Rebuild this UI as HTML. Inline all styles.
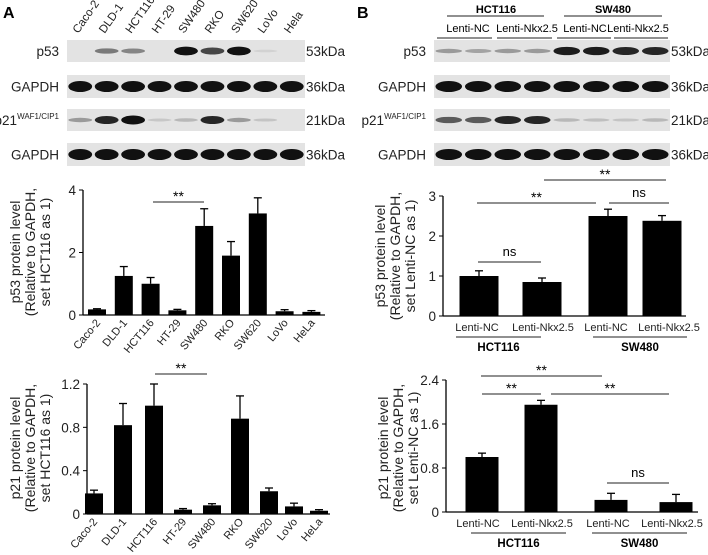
<!DOCTYPE html>
<html><head><meta charset="utf-8">
<style>
html,body{margin:0;padding:0;background:#fff;}
svg{display:block;font-family:"Liberation Sans",Arial,sans-serif;}
.blab{font-family:"Liberation Sans",sans-serif;font-size:13.5px;fill:#222;}
.tick{font-size:13.5px;fill:#222;}
.xl{font-size:11px;fill:#222;}
.yt{font-size:14px;fill:#222;}
</style></head>
<body>
<svg id="fig" width="708" height="555" viewBox="0 0 708 555">
<text x="3" y="18" font-size="16" font-weight="bold">A</text>
<text x="357" y="18" font-size="16" font-weight="bold">B</text>
<g id="blotA"></g>
<g id="blotB"></g>
<g id="c1"></g>
<g id="c2"></g>
<g id="c3"></g>
<g id="c4"></g>
</svg>
<script>
// ---- data ----
const cellLines = ["Caco-2","DLD-1","HCT116","HT-29","SW480","RKO","SW620","LoVo","HeLa"];
const blotLanesA = ["Caco-2","DLD-1","HCT116","HT-29","SW480","RKO","SW620","LoVo","Hela"];
const p53A = [0.18,1.25,1.0,0.15,2.85,1.9,3.25,0.12,0.1];
const p53AErr = [0.02,0.3,0.2,0.03,0.55,0.45,0.5,0.05,0.04];
const p53ATicks = [0,2,4];
const p21A = [0.19,0.82,1.0,0.04,0.08,0.88,0.21,0.07,0.03];
const p21AErr = [0.03,0.2,0.2,0.01,0.015,0.21,0.03,0.03,0.01];
const p21ATicks = [0,0.4,0.8,1.2];
const groupsB = ["Lenti-NC","Lenti-Nkx2.5","Lenti-NC","Lenti-Nkx2.5"];
const p53B = [1.0,0.85,2.5,2.38];
const p53BErr = [0.13,0.1,0.17,0.13];
const p53BTicks = [0,1,2,3];
const p21B = [1.0,1.95,0.22,0.18];
const p21BErr = [0.07,0.08,0.12,0.14];
const p21BTicks = [0,0.8,1.6,2.4];
const bandP53A = [0,0.45,0.4,0,0.95,0.7,0.95,0.03,0];
const bandP21A = [0.3,0.85,1,0.08,0.15,0.85,0.3,0.1,0];
const bandP53B = [0.3,0.25,0.3,0.3,0.9,0.9,0.85,0.85];
const bandP21B = [0.6,0.6,0.85,0.85,0.15,0.12,0.1,0.15];

const NS="http://www.w3.org/2000/svg";
function el(tag,attrs,parent,txt){const e=document.createElementNS(NS,tag);for(const k in attrs)e.setAttribute(k,attrs[k]);if(txt!==undefined)e.textContent=txt;parent.appendChild(e);return e;}

// ---- blots ----
function blot(g,x0,x1,lanes,rows,kdaX){
  const n=lanes; const w=(x1-x0)/n;
  rows.forEach(r=>{
    const s=el('rect',{x:x0,y:r.y,width:x1-x0,height:r.h,fill:'#e3e3e3'},g);
    
    
    for(let i=0;i<n;i++){
      const v=r.vals?r.vals[i]:1;
      if(v<=0.01)continue;
      const b=el('ellipse',{cx:x0+w*(i+0.5),cy:r.y+r.h/2,rx:w*0.45,ry:r.full?5.5:1.2+3.3*v,fill:'#111','fill-opacity':Math.min(1,0.05+v)},g);
      
      
    }
    const t=el('text',{x:kdaX,y:r.y+r.h/2+5,class:'blab'},g,r.kda);
    
    
    const l=el('text',{x:x0-8,y:r.y+r.h/2+5,class:'blab','text-anchor':'end'},g,r.label);
    
    
    if(r.sup){el('tspan',{'font-size':'8',dy:'-6'},l,r.sup);}
  });
}
const gA=document.getElementById('blotA');
blot(gA,67,305,9,[
 {name:'p53',y:40,h:22,vals:bandP53A,kda:'53kDa',label:'p53'},
 {name:'gapdh',y:75,h:23,full:true,kda:'36kDa',label:'GAPDH'},
 {name:'p21',y:109,h:22,vals:bandP21A,kda:'21kDa',label:'p21',sup:'WAF1/CIP1'},
 {name:'gapdh2',y:143,h:23,full:true,kda:'36kDa',label:'GAPDH'}],306);
blotLanesA.forEach((n,i)=>{const x=67+(238/9)*(i+0.5)-2;const t=el('text',{x:x,y:34,'font-size':'11.5',fill:'#222',transform:`rotate(-55 ${x} 34)`},gA,n);
 });
const gB=document.getElementById('blotB');
blot(gB,434,670,8,[
 {name:'p53-b',y:40,h:22,vals:bandP53B,kda:'53kDa',label:'p53'},
 {name:'gapdh-b',y:75,h:23,full:true,kda:'36kDa',label:'GAPDH'},
 {name:'p21-b',y:109,h:22,vals:bandP21B,kda:'21kDa',label:'p21',sup:'WAF1/CIP1'},
 {name:'gapdh2-b',y:143,h:23,full:true,kda:'36kDa',label:'GAPDH'}],671);
[['HCT116',496,447,544],['SW480',613,564,662]].forEach(a=>{
 const t=el('text',{x:a[1],y:13,'font-size':'11','font-weight':'bold','text-anchor':'middle'},gB,a[0]);
 
 el('line',{x1:a[2],x2:a[3],y1:16,y2:16,stroke:'#222','stroke-width':1},gB);});
[['Lenti-NC',468,437,492],['Lenti-Nkx2.5',527,497,552],['Lenti-NC',585,557,611],['Lenti-Nkx2.5',638,614,668]].forEach(a=>{
 const t=el('text',{x:a[1],y:32,'font-size':'11','text-anchor':'middle'},gB,a[0]);
 
 el('line',{x1:a[2],x2:a[3],y1:38,y2:38,stroke:'#222','stroke-width':1},gB);});

// ---- charts ----
function chart(g,o){
  const yS=v=>o.y0-(v/o.max)*(o.y0-o.yTop);
  el('line',{x1:o.ax,x2:o.ax,y1:o.yTop,y2:o.y0,stroke:'#000','stroke-width':1.3},g);
  el('line',{x1:o.ax,x2:o.xEnd,y1:o.y0,y2:o.y0,stroke:'#000','stroke-width':1.3},g);
  o.ticks.forEach(t=>{const y=yS(t);
    el('line',{x1:o.ax-4,x2:o.ax,y1:y,y2:y,stroke:'#000'},g);
    const tx=el('text',{x:o.ax-7,y:y+5,class:'tick','text-anchor':'end'},g,String(t));
    });
  o.vals.forEach((v,i)=>{const cx=o.xs(i);const top=yS(v);const et=yS(v+o.err[i]);
    el('line',{x1:cx,x2:cx,y1:et,y2:top,stroke:'#000','stroke-width':1.3},g);
    el('line',{x1:cx-4,x2:cx+4,y1:et,y2:et,stroke:'#000','stroke-width':1.3},g);
    const b=el('rect',{x:cx-o.bw/2,y:top,width:o.bw,height:o.y0-top,fill:'#000'},g);
    
    
    if(o.rot){const ly=o.y0+8;const t=el('text',{x:cx+4,y:ly,class:'xl','text-anchor':'end',transform:`rotate(-50 ${cx+4} ${ly})`},g,o.cats[i]);
      }
    else{const t=el('text',{x:o.lx[i],y:o.y0+15,class:'xl','font-size':'11','text-anchor':'middle'},g,o.cats[i]);
      }
  });
  const tt=el('text',{transform:`translate(${o.tx} ${o.ty}) rotate(-90)`,class:'yt','text-anchor':'middle'},g);
  
  o.title.forEach((s,k)=>el('tspan',{x:0,dy:k?15:0},tt,s));
  (o.sig||[]).forEach(s=>{
    el('line',{x1:s[0],x2:s[1],y1:s[2],y2:s[2],stroke:'#222','stroke-width':1},g);
    const t=el('text',{x:(s[0]+s[1])/2,y:s[2]-(s[3]=='ns'?6:1),'font-size':s[3]=='ns'?'13':'14','text-anchor':'middle'},g,s[3]);
    });
  (o.groups||[]).forEach(a=>{
    el('line',{x1:a[1],x2:a[2],y1:o.y0+21,y2:o.y0+21,stroke:'#222'},g);
    const t=el('text',{x:(a[1]+a[2])/2,y:o.y0+35,'font-size':'11.5','font-weight':'bold','text-anchor':'middle'},g,a[0]);
    });
}
chart(document.getElementById('c1'),{ax:83,xEnd:325,y0:315,yTop:190,max:4,ticks:p53ATicks,vals:p53A,err:p53AErr,cats:cellLines,
 xs:i=>97+26.8*i,bw:18,rot:true,tx:20,ty:252,title:["p53 protein level","(Relative to GAPDH,","set HCT116 as 1)"],sig:[[153,204,202,'**']]});
chart(document.getElementById('c2'),{ax:87,xEnd:330,y0:514,yTop:384,max:1.2,ticks:p21ATicks,vals:p21A,err:p21AErr,cats:cellLines,
 xs:i=>[94,123,154,183,212,240,269,294,319][i],bw:18,rot:true,tx:20,ty:448,title:["p21 protein level","(Relative to GAPDH,","set HCT116 as 1)"],sig:[[155,207,374,'**']]});
chart(document.getElementById('c3'),{ax:443,xEnd:686,y0:316,yTop:196,max:3,ticks:p53BTicks,vals:p53B,err:p53BErr,cats:groupsB,
 xs:i=>[479,542,608,662][i],lx:[477,543,606,669],bw:39,rot:false,tx:385,ty:256,title:["p53 protein level","(Relative to GAPDH,","set Lenti-NC as 1)"],
 sig:[[478,541,262,'ns'],[477,596,203,'**'],[609,669,203,'ns'],[544,666,180,'**']],groups:[['HCT116',456,541],['SW480',593,687]]});
chart(document.getElementById('c4'),{ax:446,xEnd:698,y0:512,yTop:380,max:2.4,ticks:p21BTicks,vals:p21B,err:p21BErr,cats:groupsB,
 xs:i=>[482,541,611,676][i],lx:[478,542,608,672],bw:33,rot:false,tx:388,ty:448,title:["p21 protein level","(Relative to GAPDH,","set Lenti-NC as 1)"],
 sig:[[481,602,376,'**'],[482,541,394,'**'],[551,669,394,'**'],[607,669,483,'ns']],groups:[['HCT116',471,566],['SW480',592,687]]});
</script>
</body></html>
